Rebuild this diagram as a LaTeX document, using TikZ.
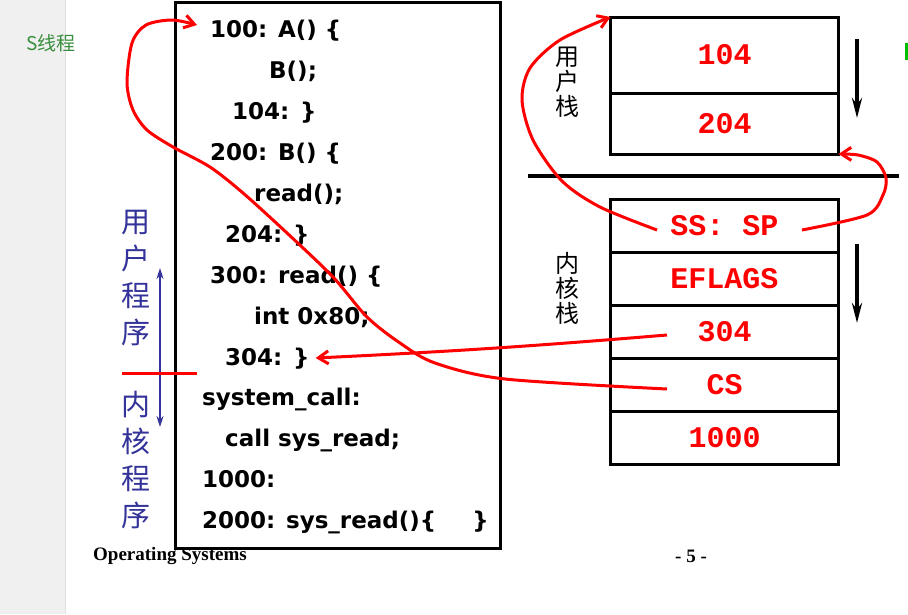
\documentclass[tikz,border=0pt]{standalone}
\usepackage{fontspec}
\usepackage{tikz}
\usetikzlibrary{arrows.meta,positioning,calc}
\newfontfamily\codefont{DejaVu Sans}
\newfontfamily\stackfont{Liberation Mono}
\newfontfamily\cjk{Noto Sans CJK SC}
\newfontfamily\footfont{Liberation Serif}
\definecolor{progblue}{RGB}{51,51,153}
\definecolor{titlegreen}{RGB}{56,142,60}
\definecolor{stripgray}{RGB}{240,240,240}

\begin{document}
\begin{tikzpicture}[x=1pt,y=-1pt,
  codeline/.style={anchor=west, inner sep=0pt, text height=17pt, text depth=5pt,
    font=\codefont\bfseries\fontsize{23}{28}\selectfont},
  cell/.style={draw, line width=3pt, outer sep=0pt, inner sep=0pt, minimum width=228pt,
    text=red, font=\stackfont\bfseries\fontsize{30}{34}\selectfont},
  redline/.style={red, line width=3pt},
  redarrow/.style={redline, -{Straight Barb[length=10pt,width=13pt]}},
  pusharrow/.style={line width=4.5pt, -{Stealth[length=20pt,width=10pt]}},
  vlabel/.style={align=center, inner sep=0pt, font=\cjk\fontsize{24}{25}\selectfont},
  proglabel/.style={align=center, inner sep=0pt, text=progblue, font=\cjk\fontsize{29}{37}\selectfont}]
  \useasboundingbox (0,0) rectangle (908,614);

  % slide background
  \fill[stripgray] (0,0) rectangle (65,614);
  \draw[black!12, line width=1pt] (65.5,0) -- (65.5,614);
  \node[text=titlegreen, font=\cjk\fontsize{19}{20}\selectfont] (title) at (51,43) {S线程};
  \fill[green!75!black] (905,43) rectangle (908,60);

  % code
  \node[draw, line width=3pt, inner sep=0pt, outer sep=0pt, minimum width=325pt,
        minimum height=546pt, anchor=north west] (codebox) at (175,2) {};
  \node[codeline] (l100)  at (210,31)  {100: A() \{};
  \node[codeline] (lb)    at (269,72)  {B();};
  \node[codeline] (l104)  at (232,113) {104: \}};
  \node[codeline] (l200)  at (210,154) {200: B() \{};
  \node[codeline] (lread) at (254,195) {read();};
  \node[codeline] (l204)  at (225,236) {204: \}};
  \node[codeline] (l300)  at (210,277) {300: read() \{};
  \node[codeline] (lint)  at (254,318) {int 0x80;};
  \node[codeline] (l304)  at (225,359) {304: \}};
  \node[codeline] (lsys)  at (202,399) {system\_call:};
  \node[codeline] (lcall) at (225,440) {call sys\_read;};
  \node[codeline] (l1000) at (202,481) {1000:};
  \node[codeline] (l2000) at (202,522) {2000: sys\_read()\{\hspace{36pt}\}};

  % user / kernel program
  \node[proglabel] (uprog) at (136,278) {用\\户\\程\\序};
  \node[proglabel] (kprog) at (136,460) {内\\核\\程\\序};
  \draw[progblue, line width=2pt, {Stealth[length=11pt,width=7pt]}-{Stealth[length=11pt,width=7pt]}]
    (160,268) -- (160,427);
  \draw[redline] (122,373) -- (197,373);

  % user stack
  \node[cell, minimum height=76pt] (u104) at (724.5,55) {104};
  \node[cell, minimum height=61pt, below=0pt of u104] (u204) {204};
  \node[vlabel] (ulabel) at (567,82) {用\\户\\栈};
  \coordinate (utop) at (857,39);
  \coordinate (ubot) at (857,118);
  \draw[pusharrow] (utop) -- (ubot);

  \draw[line width=3.5pt] (528,176) -- (899,176);

  % kernel stack
  \node[cell, minimum height=53pt] (kss) at (724.5,225.5) {SS:\ SP};
  \node[cell, minimum height=53pt, below=0pt of kss] (keflags) {EFLAGS};
  \node[cell, minimum height=53pt, below=0pt of keflags] (k304) {304};
  \node[cell, minimum height=53pt, below=0pt of k304] (kcs) {CS};
  \node[cell, minimum height=53pt, below=0pt of kcs] (k1000) {1000};
  \node[vlabel] (klabel) at (567,288) {内\\核\\栈};
  \coordinate (ktop) at (857,244);
  \coordinate (kbot) at (857,323);
  \draw[pusharrow] (ktop) -- (kbot);

  % return paths
  \coordinate (csout)  at ($(kcs.center)+(-57.5,4.5)$);
  \coordinate (a100)   at ($(l100.west)+(-13,-6)$);
  \coordinate (pcout)  at ($(k304.center)+(-57.5,3.5)$);
  \coordinate (a304)   at ($(l304.east)+(6,-1)$);
  \coordinate (ssleft) at ($(kss.center)+(-67.5,4.5)$);
  \coordinate (ssright) at ($(kss.center)+(77.5,4.5)$);

  \draw[redarrow] plot[smooth] coordinates {(csout) (505,379) (435,363) (400,343) (367,317)
    (333,277) (287,233) (243,193) (210,167) (173,147) (147,130) (133,110) (127,83)
    (132,43) (146,25) (172,20) (a100)};
  \draw[redarrow] (pcout) to[bend left=1] (a304);
  \draw[redarrow] plot[smooth] coordinates {(ssleft) (600,207) (562,181) (533,140)
    (522,100) (530,68) (560,40) (u104.north west)};
  \draw[redarrow] plot[smooth] coordinates {(ssright) (867,215) (883,195) (886,178)
    (877,162) (858,155) (u204.south east)};

  % footer
  \node[anchor=west, inner sep=0pt, font=\footfont\bfseries\fontsize{19}{22}\selectfont]
    (footer) at (93,556) {Operating Systems};
  \node[inner sep=0pt, font=\footfont\bfseries\fontsize{19}{22}\selectfont]
    (page) at (691,556) {- 5 -};
\end{tikzpicture}
\end{document}
